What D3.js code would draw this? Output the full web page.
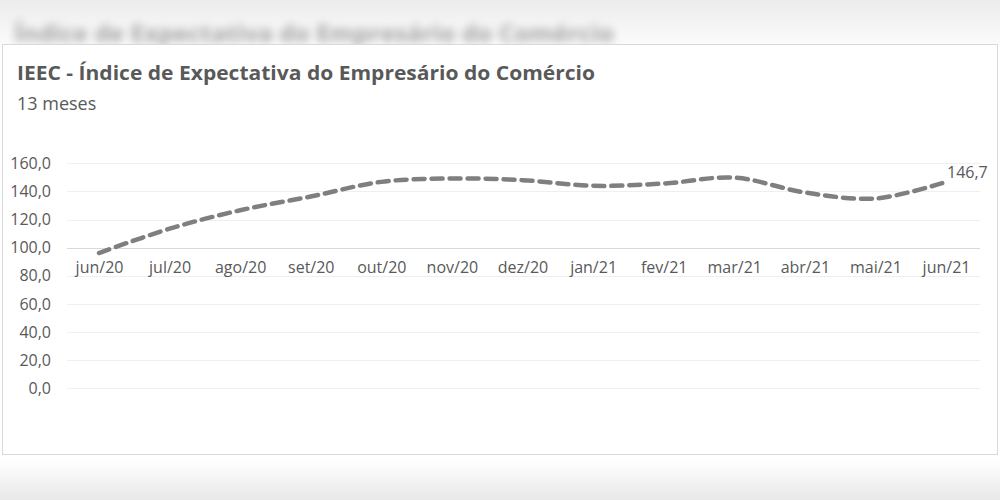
<!DOCTYPE html>
<html>
<head>
<meta charset="utf-8">
<script src="https://cdn.jsdelivr.net/npm/d3@7"></script>
<style>
  body { margin: 0; background: #fff; }
  svg { display: block; }
</style>
</head>
<body>
<script>
// data
const months = ["jun/20", "jul/20", "ago/20", "set/20", "out/20", "nov/20", "dez/20",
                "jan/21", "fev/21", "mar/21", "abr/21", "mai/21", "jun/21"];
const ieec = [96.2, 113.5, 126.6, 136.4, 146.8, 149.2, 148.0, 144.0, 145.6, 149.8, 139.3, 135.0, 146.7];
const yTicks = [0, 20, 40, 60, 80, 100, 120, 140, 160];

const w = 1000, h = 500;
const fmt = v => d3.format(".1f")(v).replace(".", ",");

const svg = d3.select("body").append("svg")
    .attr("width", w)
    .attr("height", h);

const defs = svg.append("defs");
const topGrad = defs.append("linearGradient").attr("id", "topg")
    .attr("x1", 0).attr("x2", 0).attr("y1", 0).attr("y2", 1);
topGrad.append("stop").attr("offset", "0%").attr("stop-color", "#ececec");
topGrad.append("stop").attr("offset", "100%").attr("stop-color", "#fbfbfb");
const botGrad = defs.append("linearGradient").attr("id", "botg")
    .attr("x1", 0).attr("x2", 0).attr("y1", 0).attr("y2", 1);
botGrad.append("stop").attr("offset", "0%").attr("stop-color", "#ffffff");
botGrad.append("stop").attr("offset", "100%").attr("stop-color", "#e8e8e8");
defs.append("filter").attr("id", "blur")
    .attr("x", "-5%").attr("y", "-50%").attr("width", "110%").attr("height", "200%")
    .append("feGaussianBlur").attr("stdDeviation", 4);

// page background around the chart
svg.append("rect").attr("x", 0).attr("y", 0).attr("width", w).attr("height", 44).attr("fill", "url(#topg)");
svg.append("rect").attr("x", 0).attr("y", 460).attr("width", w).attr("height", 40).attr("fill", "url(#botg)");
svg.append("text")
    .attr("x", 14).attr("y", 42)
    .attr("filter", "url(#blur)")
    .attr("font-family", "Open Sans")
    .attr("font-size", 23)
    .attr("font-weight", "bold")
    .attr("fill", "#a0a0a0")
    .attr("textLength", 600)
    .attr("lengthAdjust", "spacingAndGlyphs")
    .text("Índice de Expectativa do Empresário do Comércio");

// chart frame
svg.append("rect")
    .attr("x", 2.5).attr("y", 44.5)
    .attr("width", 995).attr("height", 410)
    .attr("fill", "#fff")
    .attr("stroke", "#d9d9d9");

svg.append("text")
    .attr("x", 17).attr("y", 80)
    .attr("font-family", "Open Sans")
    .attr("font-weight", "bold")
    .attr("font-size", 19)
    .attr("fill", "#595959")
    .attr("textLength", 578)
    .attr("lengthAdjust", "spacingAndGlyphs")
    .text("IEEC - Índice de Expectativa do Empresário do Comércio");

svg.append("text")
    .attr("x", 17).attr("y", 110)
    .attr("font-family", "Open Sans")
    .attr("font-size", 18)
    .attr("fill", "#595959")
    .text("13 meses");

const x = d3.scalePoint()
    .domain(months)
    .range([99, 946]);

const y = d3.scaleLinear()
    .domain([0, 160])
    .range([388.3, 163.3]);

// gridlines
svg.append("g")
    .selectAll("line")
    .data(yTicks)
    .enter()
    .append("line")
    .attr("x1", 67).attr("x2", 980)
    .attr("y1", d => Math.round(y(d)) + 0.5)
    .attr("y2", d => Math.round(y(d)) + 0.5)
    .attr("stroke", d => d === 100 ? "#d9d9d9" : "#efefef")
    .attr("stroke-width", 1);

// y axis labels
const yAxis = svg.append("g")
    .attr("transform", "translate(51,0)")
    .call(d3.axisLeft(y).tickValues(yTicks).tickFormat(fmt).tickSize(0).tickPadding(0));
yAxis.select(".domain").remove();
yAxis.selectAll("text")
    .attr("font-family", "Open Sans")
    .attr("font-size", 16)
    .attr("fill", "#595959");

// x axis labels: category axis crosses at 100
const xAxis = svg.append("g")
    .attr("transform", `translate(0,${y(100)})`)
    .call(d3.axisBottom(x).tickSize(0).tickPadding(14));
xAxis.select(".domain").remove();
xAxis.selectAll("text")
    .attr("font-family", "Open Sans")
    .attr("font-size", 16)
    .attr("fill", "#595959");

// smoothed dashed line
const line = d3.line()
    .x((d, i) => x(months[i]))
    .y(d => y(d))
    .curve(d3.curveCatmullRom.alpha(0.5));

svg.append("path")
    .datum(ieec)
    .attr("d", line)
    .attr("fill", "none")
    .attr("stroke", "#7f7f7f")
    .attr("stroke-width", 4.5)
    .attr("stroke-dasharray", "11,7")
    .attr("stroke-linecap", "round");

// last point label
const last = ieec.length - 1;
svg.append("text")
    .attr("x", x(months[last]) + 1)
    .attr("y", y(ieec[last]) - 4)
    .attr("font-family", "Open Sans")
    .attr("font-size", 16)
    .attr("fill", "#595959")
    .text(fmt(ieec[last]));
</script>
</body>
</html>
